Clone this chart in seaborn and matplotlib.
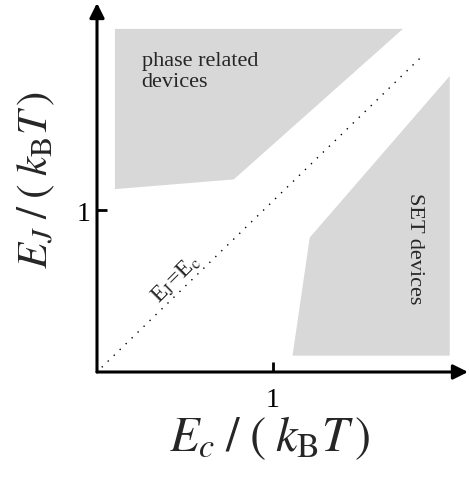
import matplotlib
matplotlib.use("Agg")
import matplotlib.pyplot as plt
import seaborn as sns
import pandas as pd

# Region outlines (in units of k_B T)
phase_x = [0.102, 1.74, 0.778, 0.102]
phase_y = [2.12, 2.12, 1.19, 1.13]
set_x = [2.006, 1.210, 1.112, 2.006]
set_y = [1.829, 0.831, 0.101, 0.101]
diag_x = [0.027, 1.854]
diag_y = [0.029, 1.957]
x_ticks = [1]
y_ticks = [1]
tick_labels = ["1"]

sns.set_theme(style="white")
plt.rcParams['font.family'] = ['Liberation Serif', 'DejaVu Serif']
plt.rcParams['mathtext.fontset'] = 'stix'

fig = plt.figure(figsize=(4.69, 4.81), dpi=100)
ax = fig.add_axes([97/469, (481-373)/481, (468-97)/469, (373-4)/481])
xmax, ymax = 2.11, 2.28
ax.set_xlim(0, xmax)
ax.set_ylim(0, ymax)

fill_col = '#d8d8d8'
ax.fill(phase_x, phase_y, color=fill_col, lw=0, zorder=1)
ax.fill(set_x, set_y, color=fill_col, lw=0, zorder=1)

df = pd.DataFrame({"x": diag_x, "y": diag_y})
sns.lineplot(data=df, x="x", y="y", ax=ax, color='black', lw=1.0,
             linestyle=(0, (1, 5)), zorder=2)

for s in ax.spines.values():
    s.set_visible(False)

ax.annotate('', xy=(xmax, 0), xytext=(0, 0), xycoords='data',
            arrowprops=dict(arrowstyle='-|>', mutation_scale=22, lw=2.2,
                            color='black', shrinkA=0, shrinkB=0), annotation_clip=False)
ax.annotate('', xy=(0, ymax), xytext=(0, 0), xycoords='data',
            arrowprops=dict(arrowstyle='-|>', mutation_scale=22, lw=2.2,
                            color='black', shrinkA=0, shrinkB=0), annotation_clip=False)

ax.set_xticks(x_ticks)
ax.set_xticklabels(tick_labels)
ax.set_yticks(y_ticks)
ax.set_yticklabels(tick_labels)
ax.tick_params(direction='in', length=7, width=2, colors='black', labelsize=20, pad=11,
               bottom=True, left=True)
ax.tick_params(axis='y', pad=5)

ax.set(xlabel=None, ylabel=None)
fig.text(270/469, 1 - 438/481, r'$E_c\;/\;(\;k_{\mathrm{B}}T\,)$', fontsize=35,
         ha='center', va='center')
fig.text(36/469, 1 - 180/481, r'$E_J\;/\;(\;k_{\mathrm{B}}T\,)$', fontsize=31,
         ha='center', va='center', rotation=90)

ax.text(0.254, 1.985, 'phase related\ndevices', fontsize=16, va='top', ha='left',
        linespacing=1.15)
ax.text(1.807, 0.77, 'SET devices', fontsize=16, rotation=-90, ha='center', va='center')
ax.text(0.45, 0.58, r'E$_{\mathrm{J}}$=E$_{\mathrm{c}}$', fontsize=17, rotation=45,
        ha='center', va='center', rotation_mode='anchor')

fig.savefig('out.png', dpi=100)
